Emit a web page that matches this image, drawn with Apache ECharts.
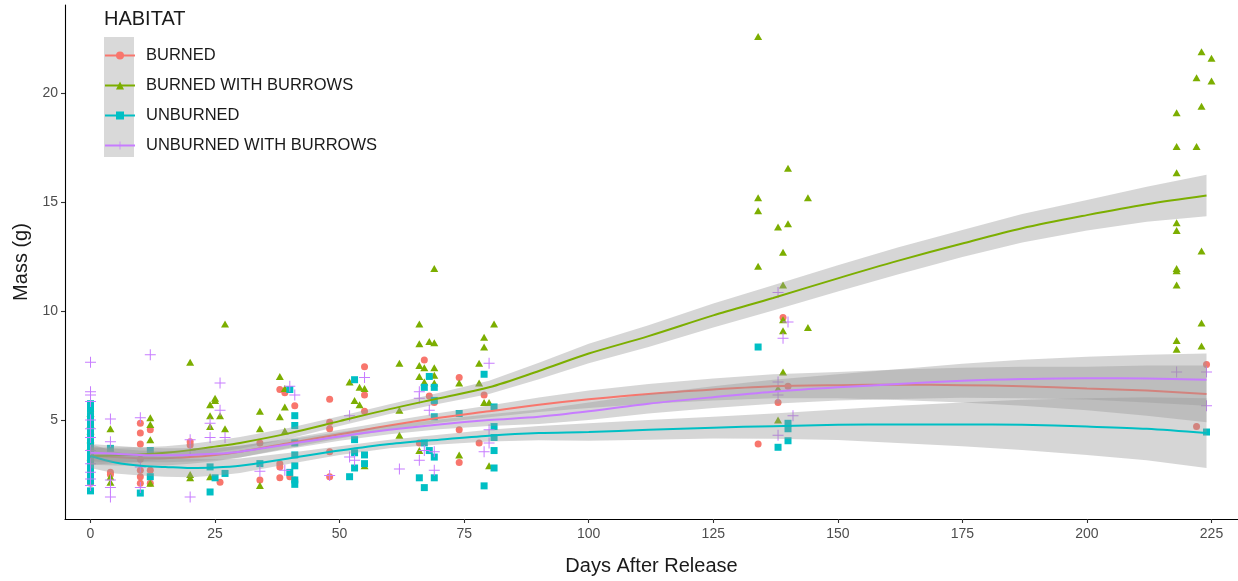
<!DOCTYPE html>
<html>
<head>
<meta charset="utf-8">
<title>Mass by habitat</title>
<script src="https://cdn.jsdelivr.net/npm/echarts@6/dist/echarts.min.js"></script>
<style>
  html, body { margin: 0; padding: 0; background: #ffffff; }
  #chart { width: 1238px; height: 581px; }
</style>
</head>
<body>
<div id="chart"></div>
<script>
// Habitat groups and their colours
const habitats = ['BURNED', 'BURNED WITH BURROWS', 'UNBURNED', 'UNBURNED WITH BURROWS'];
const habitatColors = ['#F8766D', '#7CAE00', '#00BFC4', '#C77CFF'];

// Axis ticks
const dayTicks = [0, 25, 50, 75, 100, 125, 150, 175, 200, 225];
const massTicks = [5, 10, 15, 20];

// Observations: [days after release, mass in g]
const burnedPoints = [
  [0,5.4],[0,5.1],[0,4.8],[0,4.5],[0,3.9],[0,3.5],[0,3.2],[0,2.9],[0,2.6],[0,2.3],[0,2.1],
  [4,2.6],[4,2.5],
  [10,4.85],[10,4.4],[10,3.9],[10,3.2],[10,2.7],[10,2.4],[10,2.1],
  [12,4.55],[12,2.7],[12,2.1],
  [20,4.0],[20,3.85],
  [26,2.15],
  [34,3.95],[34,2.25],
  [38,6.4],[38,3.0],[38,2.85],[38,2.35],
  [39,6.25],[40,2.4],
  [41,5.65],[41,2.25],
  [48,5.95],[48,4.9],[48,4.6],[48,3.55],[48,2.4],
  [55,7.45],[55,6.15],[55,5.4],
  [67,7.75],[66,3.95],[68,6.1],[69,5.8],
  [74,6.95],[74,4.55],[74,3.05],
  [79,6.15],[78,3.95],
  [134,3.9],[138,5.8],[139,9.7],[140,6.55],
  [222,4.7],[224,7.55]
];
const burnedBurrowPoints = [
  [0,5.3],[0,4.8],[0,4.5],[0,4.1],[0,3.8],[0,3.3],
  [4,4.6],[4,2.4],[4,2.15],
  [12,5.1],[12,4.8],[12,4.1],[12,2.1],
  [20,7.65],[20,2.5],[20,2.35],
  [24,5.7],[24,5.2],[24,4.7],[24,2.4],
  [25,5.9],[25,6.0],[26,5.2],
  [27,9.4],[27,4.6],
  [34,5.4],[34,4.6],[34,2.0],
  [38,7.0],[38,5.15],
  [39,6.45],[39,5.6],[39,4.5],
  [52,6.75],[53,5.9],[54,5.7],[54,6.5],[55,6.45],[55,2.9],
  [62,7.6],[62,5.45],[62,4.3],
  [66,9.4],[66,8.5],[66,7.5],[66,7.0],[66,3.6],
  [67,7.4],[67,6.75],[68,8.6],
  [69,11.95],[69,8.55],[69,7.4],[69,7.05],[69,6.7],
  [74,6.7],[74,3.4],
  [78,7.6],[78,6.7],
  [79,8.8],[79,8.35],[79,5.8],
  [80,5.8],[80,2.9],[81,9.4],
  [134,22.6],[134,15.2],[134,14.6],[134,12.05],
  [138,13.85],[138,6.45],[138,5.0],
  [139,12.7],[139,11.2],[139,9.6],[139,9.1],[139,7.2],
  [140,16.55],[140,14.0],[140,4.85],
  [144,15.2],[144,9.25],
  [218,19.1],[218,17.55],[218,16.35],[218,14.05],[218,13.7],[218,11.95],[218,11.85],[218,11.2],[218,8.65],[218,8.25],
  [222,20.7],[222,17.55],
  [223,21.9],[223,19.4],[223,12.75],[223,9.45],[223,8.4],
  [225,21.6],[225,20.55]
];
const unburnedPoints = [
  [0,5.75],[0,5.5],[0,5.2],[0,4.9],[0,4.6],[0,4.3],[0,4.0],[0,3.7],[0,3.4],[0,3.1],[0,2.8],[0,2.5],[0,2.2],[0,1.75],
  [4,3.7],
  [10,1.65],
  [12,3.6],[12,2.4],
  [24,2.85],[24,1.7],[25,2.35],[27,2.55],
  [34,3.0],
  [40,2.6],[40,6.4],
  [41,5.2],[41,4.75],[41,3.95],[41,3.4],[41,2.9],[41,2.25],[41,2.05],
  [52,2.4],
  [53,6.85],[53,4.1],[53,3.5],[53,2.8],
  [55,3.4],[55,3.0],
  [66,2.35],[67,6.5],[67,3.95],[67,1.9],
  [68,7.0],[68,3.6],
  [69,6.5],[69,5.9],[69,5.15],[69,3.3],[69,2.35],
  [74,5.3],
  [79,7.1],[79,1.98],
  [81,5.6],[81,4.7],[81,4.2],[81,3.6],[81,2.8],
  [134,8.35],[138,3.75],
  [140,4.85],[140,4.6],[140,4.05],
  [224,4.45]
];
const unburnedBurrowPoints = [
  [0,7.65],[0,6.3],[0,6.15],[0,5.85],[0,5.0],[0,4.6],[0,4.2],[0,3.6],[0,3.0],[0,2.6],[0,2.3],[0,2.0],
  [4,5.05],[4,4.0],[4,2.25],[4,1.9],[4,1.47],
  [10,5.1],[10,2.85],[10,1.9],
  [12,8.0],
  [20,4.1],[20,3.6],[20,1.47],
  [24,4.85],[24,4.2],
  [26,6.7],[26,5.45],[27,4.2],
  [34,2.65],[39,2.7],[40,6.55],[41,6.15],
  [48,2.45],
  [52,5.2],[52,3.3],[53,3.15],[55,6.95],
  [62,2.75],
  [66,6.3],[66,6.0],[66,3.15],[67,3.6],[68,5.45],[69,3.55],[69,2.7],
  [79,3.55],[80,7.6],[80,4.55],[80,3.95],
  [138,10.85],[138,6.75],[138,6.15],[138,4.3],
  [139,8.75],[140,9.5],[141,5.2],
  [218,7.2],[224,7.2],[224,5.65]
];

// Smoothed trend per habitat, with the half-width of its confidence ribbon
const fitDays = [0, 5, 10, 15, 20, 25, 30, 40, 50, 60, 70, 80, 90, 100, 112, 125, 137, 150, 162, 175, 187, 200, 212, 224];
const burnedFit      = [3.35, 3.3, 3.25, 3.25, 3.3, 3.4, 3.55, 3.95, 4.35, 4.75, 5.1, 5.4, 5.7, 5.95, 6.2, 6.4, 6.55, 6.6, 6.62, 6.6, 6.55, 6.45, 6.35, 6.2];
const burnedSpread   = [0.4, 0.38, 0.35, 0.33, 0.31, 0.29, 0.27, 0.22, 0.2, 0.2, 0.22, 0.27, 0.33, 0.4, 0.45, 0.5, 0.55, 0.6, 0.7, 0.8, 0.9, 1.0, 1.15, 1.3];
const burnedBurrowFit    = [3.35, 3.38, 3.42, 3.5, 3.62, 3.78, 3.95, 4.4, 4.95, 5.5, 6.0, 6.5, 7.25, 8.05, 8.85, 9.8, 10.6, 11.5, 12.3, 13.1, 13.8, 14.4, 14.9, 15.3];
const burnedBurrowSpread = [0.4, 0.36, 0.33, 0.3, 0.28, 0.27, 0.27, 0.25, 0.22, 0.22, 0.25, 0.3, 0.38, 0.45, 0.5, 0.55, 0.58, 0.6, 0.62, 0.62, 0.65, 0.7, 0.8, 0.95];
const unburnedFit    = [3.35, 3.05, 2.9, 2.85, 2.8, 2.82, 2.9, 3.25, 3.6, 3.9, 4.1, 4.28, 4.4, 4.45, 4.55, 4.65, 4.72, 4.78, 4.8, 4.8, 4.78, 4.7, 4.6, 4.4];
const unburnedSpread = [0.55, 0.5, 0.45, 0.45, 0.42, 0.38, 0.33, 0.25, 0.2, 0.2, 0.22, 0.27, 0.33, 0.4, 0.45, 0.5, 0.58, 0.7, 0.85, 1.0, 1.15, 1.3, 1.45, 1.6];
const unburnedBurrowFit    = [3.5, 3.45, 3.4, 3.38, 3.4, 3.45, 3.55, 3.9, 4.25, 4.55, 4.8, 5.0, 5.15, 5.4, 5.75, 6.05, 6.3, 6.5, 6.65, 6.8, 6.88, 6.92, 6.9, 6.85];
const unburnedBurrowSpread = [0.4, 0.37, 0.34, 0.32, 0.3, 0.28, 0.27, 0.22, 0.2, 0.2, 0.22, 0.27, 0.33, 0.4, 0.45, 0.5, 0.55, 0.6, 0.68, 0.78, 0.88, 0.98, 1.1, 1.2];

const groups = [
  { points: burnedPoints, fit: burnedFit, spread: burnedSpread, symbol: 'circle', size: 7 },
  { points: burnedBurrowPoints, fit: burnedBurrowFit, spread: burnedBurrowSpread, symbol: 'triangle', size: [8, 7] },
  { points: unburnedPoints, fit: unburnedFit, spread: unburnedSpread, symbol: 'rect', size: 7 },
  { points: unburnedBurrowPoints, fit: unburnedBurrowFit, spread: unburnedBurrowSpread,
    symbol: 'path://M5,0H6V5H11V6H6V11H5V6H0V5H5Z', size: 11 }
];

const FONT = '"Liberation Sans", Arial, sans-serif';
const series = [];

// Trend lines first so the legend picks up their line-with-marker icon
groups.forEach((g, i) => {
  series.push({
    name: habitats[i],
    type: 'line',
    data: fitDays.map((d, k) => [d, g.fit[k]]),
    smooth: 0.3,
    showSymbol: false,
    symbol: g.symbol,
    symbolSize: g.size,
    lineStyle: { color: habitatColors[i], width: 2 },
    itemStyle: { color: habitatColors[i] },
    z: 11 + 2 * i,
    silent: true
  });
});

// Confidence ribbons
groups.forEach((g, i) => {
  const rows = fitDays.map((d, k) => [d, g.fit[k] - g.spread[k], g.fit[k] + g.spread[k]]);
  series.push({
    type: 'custom',
    data: rows,
    encode: { x: 0, y: [1, 2] },
    z: 10 + 2 * i,
    silent: true,
    renderItem: (params, api) => {
      if (params.dataIndex !== 0) return null;
      const upper = rows.map(r => api.coord([r[0], r[2]]));
      const lower = rows.slice().reverse().map(r => api.coord([r[0], r[1]]));
      return {
        type: 'polygon',
        shape: { points: upper.concat(lower) },
        style: { fill: 'rgba(153,153,153,0.4)', stroke: null }
      };
    }
  });
});

// Raw observations
groups.forEach((g, i) => {
  series.push({
    name: habitats[i],
    type: 'scatter',
    data: g.points,
    symbol: g.symbol,
    symbolSize: g.size,
    itemStyle: { color: habitatColors[i], opacity: 1 },
    z: 2 + i,
    silent: true
  });
});

const chart = echarts.init(document.getElementById('chart'), null, { renderer: 'canvas' });
chart.setOption({
  animation: false,
  backgroundColor: '#ffffff',
  textStyle: { fontFamily: FONT },
  grid: { left: 65, right: 0, top: 5, bottom: 62, containLabel: false },
  title: {
    text: 'HABITAT',
    left: 104, top: 9, padding: 0,
    textStyle: { fontFamily: FONT, fontSize: 20, fontWeight: 'normal', color: '#1a1a1a' }
  },
  graphic: [{
    type: 'rect',
    left: 104, top: 37,
    shape: { width: 30, height: 120 },
    style: { fill: '#d9d9d9' },
    z: -1
  }],
  legend: {
    data: habitats,
    orient: 'vertical',
    left: 104, top: 47,
    itemWidth: 30, itemHeight: 10, itemGap: 13,
    padding: 0,
    textStyle: { fontFamily: FONT, fontSize: 16.5, color: '#1a1a1a', padding: [0, 0, 0, 6] },
    selectedMode: false
  },
  xAxis: {
    type: 'value',
    min: -5.12, max: 230.32,
    name: 'Days After Release',
    nameLocation: 'middle',
    nameGap: 37,
    nameTextStyle: { fontFamily: FONT, fontSize: 20, color: '#1a1a1a' },
    axisLine: { onZero: false, lineStyle: { color: '#000000', width: 1.1 } },
    axisTick: { show: true, length: 4, customValues: dayTicks, lineStyle: { color: '#333333', width: 1.1 } },
    axisLabel: { customValues: dayTicks, margin: 8, fontFamily: FONT, fontSize: 14, color: '#4d4d4d' },
    splitLine: { show: false }
  },
  yAxis: {
    type: 'value',
    min: 0.46, max: 24.04,
    name: 'Mass (g)',
    nameLocation: 'middle',
    nameGap: 31,
    nameTextStyle: { fontFamily: FONT, fontSize: 20, color: '#1a1a1a' },
    axisLine: { show: true, onZero: false, lineStyle: { color: '#000000', width: 1.1 } },
    axisTick: { show: true, length: 4, customValues: massTicks, lineStyle: { color: '#333333', width: 1.1 } },
    axisLabel: { customValues: massTicks, margin: 7, fontFamily: FONT, fontSize: 14, color: '#4d4d4d' },
    splitLine: { show: false }
  },
  series: series
});
</script>
</body>
</html>
